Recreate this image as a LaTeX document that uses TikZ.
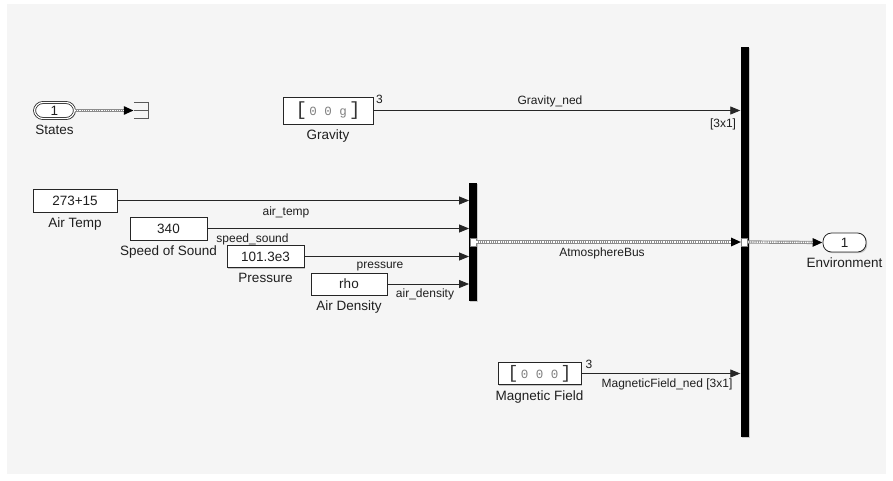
\documentclass[tikz,border=0pt]{standalone}
\usepackage{fontspec}
\setmainfont{Liberation Sans}
\newfontfamily\monof{Liberation Mono}
\usetikzlibrary{arrows.meta,shadows}
\begin{document}
\begin{tikzpicture}[x=1pt,y=-1pt,
  txt/.style={text=black!88, font=\fontsize{13.5}{15}\selectfont},
  lbl/.style={txt, inner sep=1pt, label distance=4.5pt},
  sig/.style={text=black!88, font=\fontsize{12}{13}\selectfont, inner sep=0pt},
  blk/.style={draw=black!85, line width=0.8pt, fill=white, inner sep=0pt, txt,
     drop shadow={shadow xshift=1.2pt, shadow yshift=-1.2pt, opacity=0.35, fill=black!60}},
  port/.style={blk, rounded corners=8.5pt},
  busbar/.style={fill=black, draw=none, inner sep=0pt,
     drop shadow={shadow xshift=1.2pt, shadow yshift=-1.2pt, opacity=0.3, fill=black!60}},
  wire/.style={draw=black!85, line width=0.8pt, -{Triangle[length=10pt,width=8pt]}},
  buswire/.style={draw=black!45, line width=3.2pt, -{Triangle[length=10pt,width=8pt,color=black]},
     postaction={draw=white, line width=1.4pt, dash pattern=on 1.3pt off 0.9pt, -, shorten >=10pt}},
  pmark/.style={fill=white, draw=black!50, line width=0.6pt, inner sep=0pt, minimum width=6pt, minimum height=8pt}
]
% background
\fill[white] (0,0) rectangle (893,480);
\fill[black!4] (7,4) rectangle (886,474);
\useasboundingbox (0,0) rectangle (893,480);

% bus creators
\node[busbar, minimum width=7.5pt, minimum height=118pt] (busL) at (473,242) {};
\node[busbar, minimum width=8pt, minimum height=390pt] (busR) at (744.5,242) {};

% blocks
\node[port, double, double distance=1.2pt, minimum width=40pt, minimum height=16pt,
      label={[lbl]below:States}] (states) at (54.5,110.5) {1};
\node[draw=none, minimum width=14pt, minimum height=15pt, inner sep=0pt] (term) at (141,110.5) {};
\draw[black!65, line width=1pt] (term.north west) -- (term.north east) -- (term.south east) -- (term.south west);
\draw[black!65, line width=1pt] (term.west) -- (term.east);

\node[blk, minimum width=90pt, minimum height=27pt, label={[lbl]below:Gravity}] (grav) at (328,110.5)
  {\textcolor{black!80}{\monof\fontsize{19}{19}\selectfont[}\,{\monof\fontsize{12.5}{12.5}\selectfont\textcolor{black!50}{0 0 g}}\,\textcolor{black!80}{\monof\fontsize{19}{19}\selectfont]}};

\node[blk, minimum width=84pt, minimum height=23pt, label={[lbl]below:Air Temp}] (airtemp) at (75,200.5) {273+15};
\node[blk, minimum width=77pt, minimum height=23pt, label={[lbl]below:Speed of Sound}] (sos) at (168.5,228.5) {340};
\node[blk, minimum width=77pt, minimum height=22pt, label={[lbl]below:Pressure}] (press) at (265.5,256.5) {101.3e3};
\node[blk, minimum width=76pt, minimum height=22pt, label={[lbl]below:Air Density}] (rho) at (349,284) {rho};

\node[blk, minimum width=83pt, minimum height=22pt, label={[lbl]below:Magnetic Field}] (mag) at (539.5,373.5)
  {\textcolor{black!80}{\monof\fontsize{18}{18}\selectfont[}\,{\monof\fontsize{12.5}{12.5}\selectfont\textcolor{black!50}{0 0 0}}\,\textcolor{black!80}{\monof\fontsize{18}{18}\selectfont]}};

\node[port, minimum width=43pt, minimum height=19pt, label={[lbl]below:Environment}] (env) at (844.5,242.5) {1};

% port markers on bus creators
\node[pmark] (pmL) at (busL.center) {};
\node[pmark] (pmR) at (busR.center) {};

% connectors
\draw[buswire] (states.east) -- (term.west);
\draw[wire] (grav.east) -- (grav.east -| busR.west);
\draw[wire] (airtemp.east) -- (airtemp.east -| busL.west);
\draw[wire] (sos.east) -- (sos.east -| busL.west);
\draw[wire] (press.east) -- (press.east -| busL.west);
\draw[wire] (rho.east) -- (rho.east -| busL.west);
\draw[wire] (mag.east) -- (mag.east -| busR.west);
\draw[buswire] (pmL.east) -- (pmR.west);
\draw[buswire] (pmR.east) -- (env.west);

% signal labels
\node[sig] (s3g) at (379.5,99) {3};
\node[sig] (sgn) at (550,101) {Gravity\_ned};
\node[sig] (sg31) at (723,124) {[3x1]};
\node[sig] (sat) at (286,212) {air\_temp};
\node[sig] (sss) at (252.5,239) {speed\_sound};
\node[sig] (spr) at (380,267) {pressure};
\node[sig] (sad) at (425,294) {air\_density};
\node[sig] (sab) at (602,253) {AtmosphereBus};
\node[sig] (s3m) at (589,364) {3};
\node[sig] (smf) at (667,384) {MagneticField\_ned [3x1]};
\end{tikzpicture}
\end{document}
